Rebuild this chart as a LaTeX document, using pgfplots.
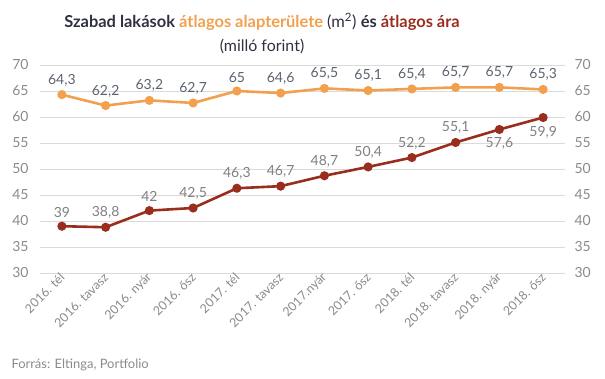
\documentclass[border=0pt]{standalone}
\usepackage{pgfplots}
\pgfplotsset{compat=1.18}
\usepackage{fontspec}
\setmainfont{Lato}
\definecolor{orng}{HTML}{F2A04E}
\definecolor{dred}{HTML}{9A2E1E}
\definecolor{ttl}{HTML}{2F3040}
\definecolor{lblA}{HTML}{5B6270}
\definecolor{lblB}{HTML}{808080}
\definecolor{tickc}{HTML}{8A8A8A}
\definecolor{gridc}{HTML}{DADADA}
\begin{document}
\begin{tikzpicture}
\useasboundingbox (0,0) rectangle (605bp,379bp);
\begin{axis}[
  at={(40bp,106bp)}, anchor=south west,
  width=525bp, height=208bp, scale only axis,
  xmin=-0.5, xmax=11.5, ymin=30, ymax=70,
  ytick={30,35,...,70},
  xtick={0,...,11},
  xticklabels={2016. tél,2016. tavasz,2016. nyár,2016. ősz,2017. tél,2017. tavasz,2017.nyár,2017. ősz,2018. tél,2018. tavasz,2018. nyár,2018. ősz},
  xticklabel style={rotate=45, anchor=east, font=\fontsize{12.5}{14}\selectfont, text=tickc, xshift=2bp, yshift=-2bp},
  yticklabel style={font=\fontsize{14}{16}\selectfont, text=tickc, xshift=-8bp},
  /pgf/number format/assume math mode=true,
  axis line style={draw=none},
  major tick length=0pt,
  ymajorgrids, grid style={gridc, line width=0.8bp},
  clip=false,
  nodes near coords,
  point meta=explicit symbolic,
]
\addplot[orng, line width=2.6bp, mark=*, mark size=3.2bp,
  nodes near coords style={font=\fontsize{14}{16}\selectfont, text=lblA, anchor=south, yshift=4bp}]
 coordinates {(0,64.3)[64,3] (1,62.2)[62,2] (2,63.2)[63,2] (3,62.7)[62,7] (4,65)[65] (5,64.6)[64,6] (6,65.5)[65,5] (7,65.1)[65,1] (8,65.4)[65,4] (9,65.7)[65,7] (10,65.7)[65,7] (11,65.3)[65,3]};
\addplot[dred, line width=2.6bp, mark=*, mark size=3.2bp,
  nodes near coords style={font=\fontsize{14}{16}\selectfont, text=lblB, anchor=south, yshift=4bp}]
 coordinates {(0,39)[39] (1,38.8)[38,8] (2,42)[42] (3,42.5)[42,5] (4,46.3)[46,3] (5,46.7)[46,7] (6,48.7)[48,7] (7,50.4)[50,4] (8,52.2)[52,2] (9,55.1)[55,1] (10,57.6)[] (11,59.9)[]};
\addplot[draw=none, mark=none,
  nodes near coords style={font=\fontsize{14}{16}\selectfont, text=lblB, anchor=north, yshift=-5bp}]
 coordinates {(10,57.6)[57,6] (11,59.9)[59,9]};
\end{axis}
\begin{axis}[
  at={(40bp,106bp)}, anchor=south west,
  width=525bp, height=208bp, scale only axis,
  xmin=-0.5, xmax=11.5, ymin=30, ymax=70,
  ytick={30,35,...,70}, xtick=\empty,
  yticklabel pos=right,
  yticklabel style={font=\fontsize{14}{16}\selectfont, text=tickc, xshift=6bp},
  /pgf/number format/assume math mode=true,
  axis line style={draw=none},
  major tick length=0pt,
]
\end{axis}
\node[font=\fontsize{16.5}{19}\selectfont, text=ttl] at (262bp,357bp)
  {\textbf{Szabad lakások} \textcolor{orng}{\textbf{átlagos alapterülete}} (m\textsuperscript{2}) \textbf{és} \textcolor{dred}{\textbf{átlagos ára}}};
\node[font=\fontsize{16}{19}\selectfont, text=ttl] at (262bp,333bp) {(milló forint)};
\node[anchor=west, font=\fontsize{13}{15}\selectfont, text=tickc] at (8bp,14bp) {Forrás: Eltinga, Portfolio};
\end{tikzpicture}
\end{document}
